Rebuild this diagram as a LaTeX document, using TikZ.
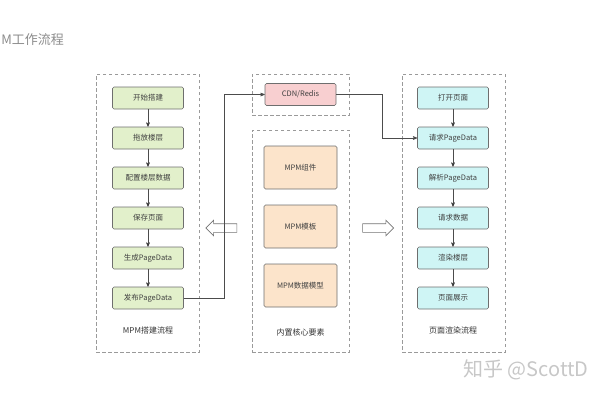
\documentclass[tikz,border=0pt]{standalone}
\usepackage{fontspec}
\setmainfont{Noto Sans CJK SC}
\usepackage{tikz}
\usetikzlibrary{arrows,positioning,shapes.arrows}
\definecolor{lvse}{HTML}{E2F0CB}
\definecolor{fenhong}{HTML}{F8CFD0}
\definecolor{chengse}{HTML}{FCE4CB}
\definecolor{qingse}{HTML}{CFF5F5}
\definecolor{bianxian}{HTML}{6E6E6E}
\definecolor{xuxian}{HTML}{9A9A9A}

\begin{document}
\begin{tikzpicture}[x=1pt,y=-1pt,->,>=stealth',semithick,node distance=40pt,
                    font=\fontsize{7.5}{9}\selectfont]
	\tikzstyle{kuang}=[draw=bianxian,minimum width=71pt,minimum height=22pt,
	                   rounded corners=1.5pt,text=black!75,inner sep=1pt]
	\tikzstyle{dakuang}=[kuang,fill=chengse,minimum width=73pt,minimum height=43pt]
	\tikzstyle{waikuang}=[draw=xuxian,dash pattern=on 3.5pt off 2.5pt,line width=0.8pt,
	                      minimum width=103pt,minimum height=278pt,inner sep=0pt]
	\tikzstyle{biaoti}=[text=black!80,font=\fontsize{8}{9}\selectfont]
	\tikzstyle{kongjian}=[single arrow,draw=black!55,minimum height=31pt,minimum width=15pt,
	                      single arrow head extend=3.5pt,inner sep=4pt,-]
	\tikzstyle{lianxian}=[draw=black!70]

	\useasboundingbox (0,0) rectangle (600,400);

	% frames
	\node[waikuang] (zuokuang) at (147.5,213) {};
	\node[waikuang,minimum width=97pt,minimum height=41pt] (cdnkuang) at (300.5,94.5) {};
	\node[waikuang,minimum width=97pt,minimum height=222pt] (hexinkuang) at (300.5,241) {};
	\node[waikuang] (youkuang) at (453.5,213) {};

	% MPM build flow
	\node[kuang,fill=lvse] (kaishi) at (148,98) {开始搭建};
	\node[kuang,fill=lvse] (tuofang) [below of=kaishi] {拖放楼层};
	\node[kuang,fill=lvse] (peizhi) [below of=tuofang] {配置楼层数据};
	\node[kuang,fill=lvse] (baocun) [below of=peizhi] {保存页面};
	\node[kuang,fill=lvse] (shengcheng) [below of=baocun] {生成PageData};
	\node[kuang,fill=lvse] (fabu) [below of=shengcheng] {发布PageData};
	\node[biaoti] (zuoming) at (148,330) {MPM搭建流程};

	% core elements
	\node[kuang,fill=fenhong] (cdn) at (300.5,94.5) {CDN/Redis};
	\node[dakuang] (zujian) at (300.5,167.5) {MPM组件};
	\node[dakuang] (muban) [below of=zujian,node distance=59pt] {MPM模板};
	\node[dakuang] (moxing) [below of=muban,node distance=59pt] {MPM数据模型};
	\node[biaoti] (zhongming) at (300.5,332) {内置核心要素};

	% page render flow
	\node[kuang,fill=qingse] (dakai) at (453,98) {打开页面};
	\node[kuang,fill=qingse] (qingqiu) [below of=dakai] {请求PageData};
	\node[kuang,fill=qingse] (jiexi) [below of=qingqiu] {解析PageData};
	\node[kuang,fill=qingse] (shuju) [below of=jiexi] {请求数据};
	\node[kuang,fill=qingse] (xuanran) [below of=shuju] {渲染楼层};
	\node[kuang,fill=qingse] (zhanshi) [below of=xuanran] {页面展示};
	\node[biaoti] (youming) at (453,330) {页面渲染流程};

	% hollow arrows
	\node[kongjian,shape border rotate=180] (zuojian) at (223.5,228) {};
	\node[kongjian] (youjian) at (376,228) {};

	\path[lianxian] (kaishi) edge (tuofang)
		(tuofang) edge (peizhi)
		(peizhi) edge (baocun)
		(baocun) edge (shengcheng)
		(shengcheng) edge (fabu);
	\path[lianxian] (dakai) edge (qingqiu)
		(qingqiu) edge (jiexi)
		(jiexi) edge (shuju)
		(shuju) edge (xuanran)
		(xuanran) edge (zhanshi);

	\draw[lianxian] (fabu.east) -- ++(40,0) |- (cdn.west);
	\draw[lianxian] (cdn.east) -- ++(46,0) |- (qingqiu.west);

	% title and mark
	\node[anchor=west,inner sep=0pt,text=black!45,font=\fontsize{13}{15}\selectfont] (biaotou) at (1,40) {M工作流程};
	\node[anchor=west,inner sep=0pt,text=black!22,font=\fontsize{20}{22}\selectfont] (shuiyin) at (463,370) {知乎 @ScottD};
\end{tikzpicture}
\end{document}
